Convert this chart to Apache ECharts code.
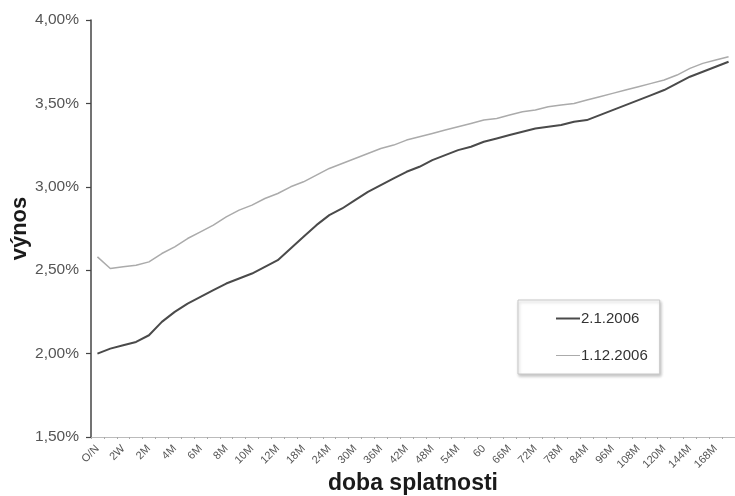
<!DOCTYPE html>
<html>
<head>
<meta charset="utf-8">
<script src="https://cdn.jsdelivr.net/npm/echarts@6/dist/echarts.min.js"></script>
<style>
  html, body { margin: 0; padding: 0; background: #fff; }
  #chart { width: 735px; height: 496px; }
</style>
</head>
<body>
<div id="chart"></div>
<script>
// Maturity buckets of the yield curve
const maturities = [
  'O/N', '1W', '2W', '1M', '2M', '3M', '4M', '5M', '6M', '7M',
  '8M', '9M', '10M', '11M', '12M', '15M', '18M', '21M', '24M', '27M',
  '30M', '33M', '36M', '39M', '42M', '45M', '48M', '51M', '54M', '57M',
  '60', '63M', '66M', '69M', '72M', '75M', '78M', '81M', '84M', '90M',
  '96M', '102M', '108M', '114M', '120M', '132M', '144M', '156M', '168M', '180M'
];

// Yields in percent
const yieldJan2006 = [
  2.00, 2.03, 2.05, 2.07, 2.11, 2.19, 2.25, 2.30, 2.34, 2.38,
  2.42, 2.45, 2.48, 2.52, 2.56, 2.63, 2.70, 2.77, 2.83, 2.87,
  2.92, 2.97, 3.01, 3.05, 3.09, 3.12, 3.16, 3.19, 3.22, 3.24,
  3.27, 3.29, 3.31, 3.33, 3.35, 3.36, 3.37, 3.39, 3.40, 3.43,
  3.46, 3.49, 3.52, 3.55, 3.58, 3.62, 3.66, 3.69, 3.72, 3.75
];
const yieldDec2006 = [
  2.58, 2.51, 2.52, 2.53, 2.55, 2.60, 2.64, 2.69, 2.73, 2.77,
  2.82, 2.86, 2.89, 2.93, 2.96, 3.00, 3.03, 3.07, 3.11, 3.14,
  3.17, 3.20, 3.23, 3.25, 3.28, 3.30, 3.32, 3.34, 3.36, 3.38,
  3.40, 3.41, 3.43, 3.45, 3.46, 3.48, 3.49, 3.50, 3.52, 3.54,
  3.56, 3.58, 3.60, 3.62, 3.64, 3.67, 3.71, 3.74, 3.76, 3.78
];

const seriesNames = ['2.1.2006', '1.12.2006'];
const darkColor = '#4a4a4a';
const lightColor = '#ababab';

const chart = echarts.init(document.getElementById('chart'), null, { renderer: 'canvas' });

const fmtPct = v => v.toFixed(2).replace('.', ',') + '%';
const FONT = 'Liberation Sans, Arial, sans-serif';

chart.setOption({
  backgroundColor: '#ffffff',
  animation: false,
  textStyle: { fontFamily: FONT },
  grid: { left: 91, right: 0, top: 20, bottom: 59, containLabel: false, outerBoundsMode: 'none' },
  legend: {
    orient: 'vertical',
    left: 518,
    top: 300,
    padding: [11, 12, 11, 38],
    itemGap: 22,
    itemWidth: 24,
    itemHeight: 2,
    borderColor: '#c8c8c8',
    borderWidth: 1,
    borderRadius: 0,
    backgroundColor: '#fff',
    shadowColor: 'rgba(0,0,0,0.22)',
    shadowBlur: 3,
    shadowOffsetX: 1,
    shadowOffsetY: 2,
    textStyle: { fontSize: 15, color: '#333', fontFamily: FONT, padding: [0, 0, 0, -4] },
    data: [
      { name: seriesNames[0], icon: 'rect', itemStyle: { color: darkColor } },
      { name: seriesNames[1], icon: 'path://M0,0H24V1H0Z', itemStyle: { color: lightColor } }
    ]
  },
  xAxis: {
    type: 'category',
    data: maturities,
    boundaryGap: true,
    name: 'doba splatnosti',
    nameLocation: 'middle',
    nameGap: 35,
    nameMoveOverlap: false,
    nameTextStyle: { fontSize: 23, fontWeight: 'bold', color: '#1a1a1a', fontFamily: FONT },
    axisLine: { lineStyle: { color: '#bbb', width: 1 } },
    axisTick: { show: true, interval: 0, length: 2, inside: false, lineStyle: { color: '#aaa' } },
    axisLabel: {
      interval: 1,
      rotate: 45,
      fontSize: 11,
      color: '#555',
      margin: 10,
      fontFamily: FONT
    },
    splitLine: { show: false }
  },
  yAxis: {
    type: 'value',
    min: 1.5,
    max: 4.0,
    interval: 0.5,
    name: 'výnos',
    nameLocation: 'middle',
    nameGap: 60,
    nameMoveOverlap: false,
    nameRotate: 90,
    nameTextStyle: { fontSize: 22, fontWeight: 'bold', color: '#1a1a1a', fontFamily: FONT },
    axisLine: { show: true, lineStyle: { color: '#444', width: 1.5 } },
    axisTick: { show: true, length: 5, lineStyle: { color: '#444', width: 1.2 } },
    axisLabel: { formatter: fmtPct, fontSize: 15.5, color: '#555', margin: 12, fontFamily: FONT },
    splitLine: { show: false }
  },
  series: [
    {
      name: seriesNames[0],
      type: 'line',
      data: yieldJan2006,
      symbol: 'none',
      smooth: false,
      lineStyle: { color: darkColor, width: 2 },
      itemStyle: { color: darkColor }
    },
    {
      name: seriesNames[1],
      type: 'line',
      data: yieldDec2006,
      symbol: 'none',
      smooth: false,
      lineStyle: { color: lightColor, width: 1.5 },
      itemStyle: { color: lightColor }
    }
  ]
});
</script>
</body>
</html>
